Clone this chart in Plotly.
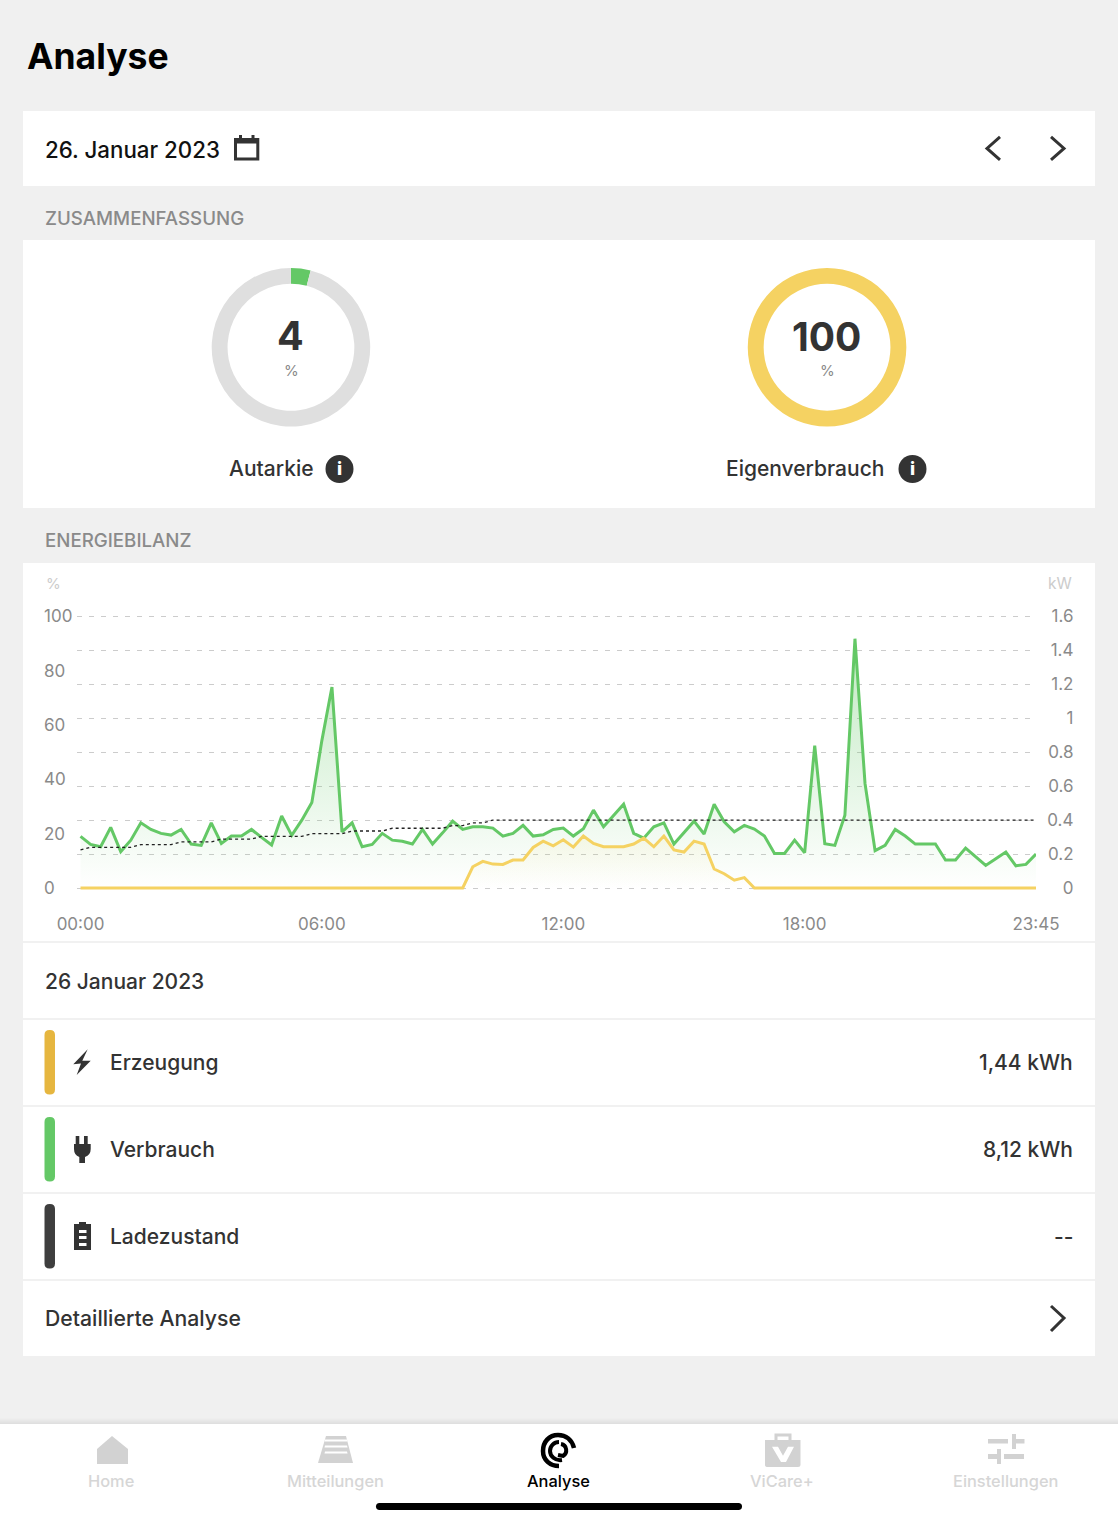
import re
import plotly.graph_objects as go

W, H = 1118, 1521

# chart data (one value per 15 minutes)
slots = list(range(96))
verbrauch_kw = [
    0.304, 0.257, 0.243, 0.357, 0.214, 0.282, 0.384, 0.345, 0.322, 0.312, 0.345, 0.259,
    0.251, 0.384, 0.263, 0.306, 0.306, 0.345, 0.298, 0.253, 0.424, 0.31, 0.40, 0.504,
    0.87, 1.184, 0.331, 0.384, 0.243, 0.257, 0.322, 0.282, 0.275, 0.259, 0.345, 0.259,
    0.325, 0.394, 0.345, 0.361, 0.361, 0.353, 0.306, 0.322, 0.369, 0.306, 0.314, 0.345,
    0.353, 0.306, 0.349, 0.459, 0.361, 0.425, 0.494, 0.322, 0.294, 0.361, 0.384, 0.259,
    0.327, 0.394, 0.318, 0.494, 0.39, 0.331, 0.369, 0.347, 0.306, 0.204, 0.204, 0.282,
    0.208, 0.839, 0.261, 0.251, 0.429, 1.469, 0.616, 0.22, 0.251, 0.345, 0.306, 0.259,
    0.259, 0.259, 0.165, 0.165, 0.235, 0.184, 0.133, 0.173, 0.212, 0.131, 0.139, 0.2,
]
erzeugung_kw = [0] * 39 + [
    0.125, 0.157, 0.141, 0.139, 0.165, 0.165, 0.239, 0.276, 0.249, 0.284, 0.241, 0.306,
    0.263, 0.243, 0.243, 0.243, 0.259, 0.294, 0.243, 0.306, 0.224, 0.212, 0.276, 0.259,
    0.112, 0.084, 0.046, 0.061,
] + [0] * 29
ladezustand_pct = [
    14, 15, 15, 15, 15, 15, 16, 16, 16, 16, 17, 17, 17, 17, 18, 18, 18, 18, 19, 19, 19, 19, 19,
    20, 20, 20, 20, 21, 21, 21, 21, 22, 22, 22, 22, 22, 22, 23, 23, 24, 24,
] + [25] * 55
tick_slots = [0, 24, 48, 72, 95]
tick_labels = ["00:00", "06:00", "12:00", "18:00", "23:45"]
kw_ticks = [0, 0.2, 0.4, 0.6, 0.8, 1, 1.2, 1.4, 1.6]
pct_ticks = [0, 20, 40, 60, 80, 100]
autarkie = [4, 96]
eigenverbrauch = [100, 0]

GREEN = "#64c866"
YELLOW = "#f5d262"
DARK = "#333333"
GREY = "#8a8a8a"
TAB = "#d2d2d2"
FONT = "Inter"


def fx(x):
    return x / W


def fy(y):
    return 1 - y / H


def to_paper(path):
    # pixel coordinates in the path string -> paper fractions
    return re.sub(r"(-?[\d.]+),(-?[\d.]+)",
                  lambda m: f"{fx(float(m[1])):.5f},{fy(float(m[2])):.5f}", path)


shapes = []


def rect(x0, y0, x1, y1, color):
    shapes.append(dict(type="rect", xref="paper", yref="paper", layer="below",
                       x0=fx(x0), x1=fx(x1), y0=fy(y0), y1=fy(y1),
                       fillcolor=color, line_width=0))


def fill_path(path, color):
    shapes.append(dict(type="path", xref="paper", yref="paper", path=to_paper(path),
                       fillcolor=color, line_width=0))


def stroke_path(path, color, width):
    shapes.append(dict(type="path", xref="paper", yref="paper", path=to_paper(path),
                       line=dict(color=color, width=width)))


def round_rect(x0, y0, x1, y1, r, color):
    fill_path(f"M {x0},{y0 + r} Q {x0},{y0} {x0 + r},{y0} L {x1 - r},{y0} Q {x1},{y0} {x1},{y0 + r} "
              f"L {x1},{y1 - r} Q {x1},{y1} {x1 - r},{y1} L {x0 + r},{y1} Q {x0},{y1} {x0},{y1 - r} Z", color)


def circle(cx, cy, r, color):
    shapes.append(dict(type="circle", xref="paper", yref="paper",
                       x0=fx(cx - r), x1=fx(cx + r), y0=fy(cy + r), y1=fy(cy - r),
                       fillcolor=color, line_width=0))


annotations = []


def text(x, y, s, size, color=DARK, anchor="left", weight=400):
    annotations.append(dict(x=fx(x), y=fy(y), xref="paper", yref="paper", text=s, showarrow=False,
                            xanchor=anchor, yanchor="middle", borderpad=0,
                            font=dict(family=FONT, size=size, color=color, weight=weight)))


# cards
rect(23, 111, 1095, 186, "white")
rect(23, 240, 1095, 508, "white")
rect(23, 563, 1095, 1356, "white")
for y in [942, 1019, 1106, 1193, 1280]:
    rect(23, y - 0.7, 1095, y + 0.7, "#ececec")
# tab bar with soft shadow on top
for i, c in enumerate(["#eeeeee", "#ebebeb", "#e8e8e8", "#e5e5e5", "#e2e2e2", "#dfdfdf"]):
    rect(0, 1418 + i, W, 1419 + i, c)
rect(0, 1424, W, H, "white")

# header
text(26, 56, "Analyse", 35.5, "black", weight=700)
text(44, 149, "26. Januar 2023", 22.3, "#111111", weight=500)
fill_path("M 234,138 L 259.3,138 L 259.3,160.5 L 234,160.5 Z "
          "M 237,143.5 L 237,157.5 L 256.3,157.5 L 256.3,143.5 Z", "#333333")
rect(239, 135, 242, 138, "#333333")
rect(251.5, 135, 254.5, 138, "#333333")
stroke_path("M 1000,137 L 987,148.5 L 1000,160", "#333333", 3)
stroke_path("M 1051,137 L 1064,148.5 L 1051,160", "#333333", 3)

# summary
text(44, 218.5, "ZUSAMMENFASSUNG", 18.7, GREY, weight=500)
text(290.5, 336, "4", 39.5, DARK, "center", 700)
text(291, 370, "%", 15, GREY, "center")
text(826, 336, "100", 39, DARK, "center", 700)
text(827, 370, "%", 15, GREY, "center")
text(227.5, 469, "Autarkie", 21, DARK, weight=500)
text(725.5, 469, "Eigenverbrauch", 21, DARK, weight=500)
for cx in [339.5, 912.5]:
    circle(cx, 469, 14, "#333333")
    text(cx, 469, "i", 18, "white", "center", 800)

# energy balance
text(44, 540.5, "ENERGIEBILANZ", 18.7, GREY, weight=500)
text(44.5, 583, "%", 15, "#cccccc")
text(1073, 583, "kW", 15.5, "#cccccc", "right")
text(44, 981, "26 Januar 2023", 21, DARK, weight=500)

rows = [
    (1062, "#e6b63f", "Erzeugung", "1,44 kWh"),
    (1149, GREEN, "Verbrauch", "8,12 kWh"),
    (1236, "#3e3e3e", "Ladezustand", "--"),
]
for y, color, name, value in rows:
    round_rect(44.5, y - 32, 55, y + 32.5, 5, color)
    text(108.5, y, name, 21, DARK, weight=500)
    text(1073.5, y, value, 21, DARK, "right", 500)

# row icons
fill_path("M 87.7,1049.3 L 73.3,1064.3 L 81,1063.5 L 76.7,1075 L 90.7,1060.7 L 82.3,1060.7 Z", "#333333")
fill_path("M 75.7,1136 L 79.3,1136 L 79.3,1144 L 84,1144 L 84,1136 L 87.7,1136 L 87.7,1144 L 90.7,1144 "
          "L 90.7,1149 Q 90.7,1155 85,1157 L 85,1163 L 79.3,1163 L 79.3,1157 Q 74,1155 74,1149 L 74,1144 "
          "L 75.7,1144 Z", "#333333")
fill_path("M 79,1222 L 86,1222 L 86,1224 L 91,1224 L 91,1250 L 74,1250 L 74,1224 L 79,1224 Z", "#333333")
for y in [1230, 1236, 1243]:
    fill_path(f"M 79,{y} L 86.5,{y} L 86.5,{y + 3} L 79,{y + 3} Z", "white")

text(44, 1318, "Detaillierte Analyse", 21.2, DARK, weight=500)
stroke_path("M 1051,1306 L 1064,1318 L 1051,1331", "#333333", 3)

# tab bar icons
fill_path("M 112,1436 L 128,1449 L 128,1464 L 97,1464 L 97,1449 Z", TAB)
fill_path("M 326,1436 L 346,1436 L 353,1463 L 318,1463 Z", TAB)
for y in [1439.5, 1445.5, 1451.5]:
    fill_path(f"M 325,{y} L 347,{y} L 347.6,{y + 2} L 324.5,{y + 2} Z", "white")
stroke_path("M 574,1448 C 572,1440 566,1435 558,1435 C 549,1435 543,1442 543,1451 "
            "C 543,1460 550,1466 559,1466", "black", 4.5)
stroke_path("M 562,1460 C 555,1461 550,1456 550,1451 C 550,1446 554,1442 559,1442", "black", 4)
stroke_path("M 561,1444 C 567,1445 568,1453 563,1456 L 558,1455", "black", 4)
stroke_path("M 776,1441 L 776,1435 L 790,1435 L 790,1441", TAB, 3)
fill_path("M 765,1440 L 800.5,1440 L 800.5,1465 Q 800.5,1467 798,1467 L 768,1467 Q 765,1467 765,1465 Z", TAB)
fill_path("M 772,1446.7 L 778,1446.7 L 783,1455.7 L 788,1446.7 L 794,1446.7 L 786,1462 L 781,1462 Z", "white")
for x0, y0, x1, y1 in [(988, 1439, 1008, 1443.5), (1012, 1434, 1016, 1449), (1016, 1439, 1024.5, 1443.5),
                       (988, 1454, 997, 1459), (997, 1449, 1001, 1464), (1004, 1454, 1024, 1459)]:
    fill_path(f"M {x0},{y0} L {x1},{y0} L {x1},{y1} L {x0},{y1} Z", TAB)

tabs = [(111, "Home"), (335.5, "Mitteilungen"), (558, "Analyse"), (781.5, "ViCare+"), (1005.5, "Einstellungen")]
for x, name in tabs:
    active = name == "Analyse"
    text(x, 1481, name, 16.4, "black" if active else "#d6d6d6", "center", 500)
round_rect(376, 1503, 742, 1510, 3.5, "black")

fig = go.Figure()

# donuts
for values, colors, x0, y0 in [(autarkie, [GREEN, "#dfdfdf"], 211.7, 268),
                               (eigenverbrauch, [YELLOW, "#dfdfdf"], 747.8, 268)]:
    fig.add_trace(go.Pie(values=values, sort=False, direction="clockwise", rotation=0, hole=0.8,
                         marker=dict(colors=colors, line=dict(width=0)), textinfo="none",
                         domain=dict(x=[fx(x0), fx(x0 + 158.5)], y=[fy(y0 + 158.5), fy(y0)]),
                         showlegend=False))

fig.add_trace(go.Scatter(
    x=slots, y=verbrauch_kw, mode="lines", line=dict(color=GREEN, width=3), fill="tozeroy",
    fillgradient=dict(type="vertical", colorscale=[[0, "rgba(100,200,102,0.0)"], [1, "rgba(100,200,102,0.4)"]]),
    showlegend=False))
fig.add_trace(go.Scatter(
    x=slots, y=erzeugung_kw, mode="lines", line=dict(color=YELLOW, width=3), fill="tozeroy",
    fillgradient=dict(type="vertical", colorscale=[[0, "rgba(245,210,98,0.0)"], [1, "rgba(245,210,98,0.1)"]]),
    showlegend=False))
fig.add_trace(go.Scatter(
    x=slots, y=ladezustand_pct, yaxis="y2", mode="lines",
    line=dict(color="#222222", width=1.3, dash="3px,3px"), showlegend=False))

# a little padding around the ranges so the 0 and 100 % gridlines are drawn
plot_domain = [fy(891.4), fy(613.1)]
axis_font = dict(family=FONT, size=17, color=GREY)

fig.update_layout(
    width=W, height=H, margin=dict(l=0, r=0, t=0, b=0, autoexpand=False),
    paper_bgcolor="#f0f0f0", plot_bgcolor="rgba(0,0,0,0)",
    shapes=shapes, annotations=annotations, hovermode=False,
    xaxis=dict(domain=[fx(77), fx(1036)], range=[-0.35, 95], tickvals=tick_slots, ticktext=tick_labels,
               showgrid=False, zeroline=False, showline=False, ticks="outside", ticklen=17,
               tickcolor="rgba(0,0,0,0)", tickfont=axis_font, anchor="y"),
    yaxis=dict(domain=plot_domain, range=[-0.02, 1.62], tickvals=kw_ticks, ticktext=[str(v) for v in kw_ticks],
               anchor="free", position=fx(1073.5), side="left", showgrid=True, griddash="5px,7px",
               gridcolor="#cccccc", gridwidth=1.2, zeroline=False, showline=False, tickfont=axis_font),
    yaxis2=dict(domain=plot_domain, range=[-1.25, 101.25], tickvals=pct_ticks, overlaying="y",
                anchor="free", position=fx(43), side="right", showgrid=False, zeroline=False,
                showline=False, tickfont=axis_font),
)

fig.write_html("out.html", config=dict(displayModeBar=False),
               post_script="document.body.style.margin='0';document.body.style.overflow='hidden';")
